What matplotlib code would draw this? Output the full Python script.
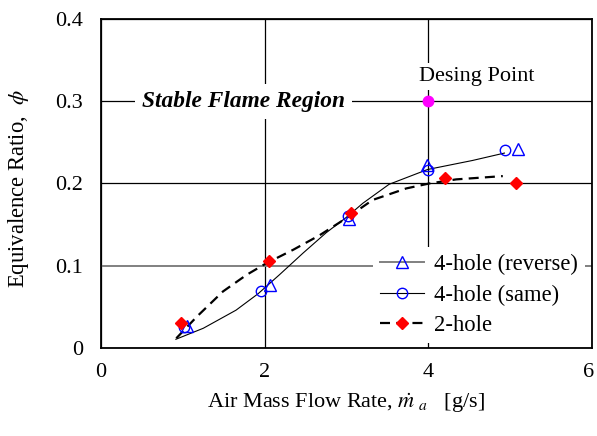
import matplotlib
matplotlib.use("Agg")
import matplotlib.pyplot as plt
from matplotlib.lines import Line2D
from matplotlib.transforms import ScaledTranslation

plt.rcParams['font.family'] = ['Liberation Serif', 'DejaVu Serif']
plt.rcParams['mathtext.fontset'] = 'stix'

# measured data
rev_x = [1.05, 2.07, 3.03, 3.98, 5.10]
rev_y = [0.027, 0.076, 0.157, 0.222, 0.242]
same_x = [1.01, 1.96, 3.02, 3.99, 4.94]
same_y = [0.025, 0.069, 0.160, 0.217, 0.241]
two_x = [0.98, 2.05, 3.05, 4.20, 5.07]
two_y = [0.030, 0.106, 0.164, 0.207, 0.200]
design_x = [4.0]
design_y = [0.30]

# trend lines
fit_same_x = [0.915, 1.25, 1.65, 1.92, 2.18, 2.47, 2.75, 3.0, 3.2, 3.52, 3.99, 4.54, 4.93]
fit_same_y = [0.0106, 0.024, 0.046, 0.066, 0.089, 0.1155, 0.140, 0.159, 0.176, 0.199, 0.217, 0.228, 0.237]
fit_two_x = [0.92, 1.17, 1.49, 1.78, 2.02, 2.35, 2.67, 3.0, 3.32, 3.73, 4.01, 4.34, 4.91]
fit_two_y = [0.0118, 0.038, 0.0687, 0.089, 0.103, 0.1195, 0.137, 0.158, 0.180, 0.194, 0.200, 0.205, 0.209]

x_ticks = [0, 2, 4, 6]
y_ticks = [0, 0.1, 0.2, 0.3, 0.4]
y_tick_labels = ['0', '0.1', '0.2', '0.3', '0.4']

fig = plt.figure(figsize=(5.97, 4.36), dpi=100)
ax = fig.add_axes([101/597, 1-348/436, 491/597, 329/436])

ax.set_xlim(0, 6)
ax.set_ylim(0, 0.4)
ax.set_xticks(x_ticks)
ax.set_xticklabels([str(v) for v in x_ticks])
ax.set_yticks(y_ticks)
ax.set_yticklabels(y_tick_labels)
ax.tick_params(direction='in', length=0, labelsize=16)
ax.tick_params(axis='x', pad=10.5)
ax.tick_params(axis='y', pad=13)
ax.grid(True, color='black', linewidth=0.9)
ax.get_ygridlines()[1].set_color('#808080')
ax.get_ygridlines()[1].set_linewidth(1.4)
ax.set_axisbelow(True)
for s in ax.spines.values():
    s.set_linewidth(1.3)
last = ax.get_xticklabels()[-1]
last.set_transform(last.get_transform() + ScaledTranslation(-3/100, 0, fig.dpi_scale_trans))

ax.plot(fit_same_x, fit_same_y, color='black', linewidth=0.8, zorder=3)
ax.plot(fit_two_x, fit_two_y, color='black', linewidth=1.6, linestyle=(0, (4.5, 2.8)), zorder=3)
ax.plot(rev_x, rev_y, linestyle='none', marker='^', markersize=9, markerfacecolor='none',
        markeredgecolor='blue', markeredgewidth=1.0, zorder=4)
ax.plot(same_x, same_y, linestyle='none', marker='o', markersize=7.5, markerfacecolor='none',
        markeredgecolor='blue', markeredgewidth=1.0, zorder=4)
ax.plot(two_x, two_y, linestyle='none', marker='D', markersize=6.5, color='red', zorder=5)
ax.plot(design_x, design_y, linestyle='none', marker='o', markersize=7.5, color='magenta', zorder=5)

ax.text(1.74, 0.30, 'Stable Flame Region', fontsize=16.8, fontweight='bold', fontstyle='italic',
        ha='center', va='center', zorder=6,
        bbox=dict(facecolor='white', edgecolor='none', pad=5))
ax.text(4.59, 0.330, 'Desing Point', fontsize=16, ha='center', va='center', zorder=6,
        bbox=dict(facecolor='white', edgecolor='none', pad=3))

handles = [
    Line2D([], [], color='#808080', linewidth=1.4, marker='^', markersize=9,
           markerfacecolor='none', markeredgecolor='blue'),
    Line2D([], [], color='black', linewidth=0.8, marker='o', markersize=7.5,
           markerfacecolor='none', markeredgecolor='blue'),
    Line2D([], [], color='black', linewidth=1.6, linestyle=(0, (4.5, 2.8)), marker='D',
           markersize=6.5, markerfacecolor='red', markeredgecolor='red'),
]
labels = ['4-hole (reverse)', '4-hole (same)', '2-hole']
leg = ax.legend(handles, labels, loc='upper left',
                bbox_to_anchor=((373-101)/491, (348-247)/329),
                fontsize=16.3, frameon=True, fancybox=False, framealpha=1,
                edgecolor='none', facecolor='white', borderpad=0.3,
                handlelength=1.95, handletextpad=0.45, labelspacing=0.42,
                borderaxespad=0)
leg.set_zorder(7)

fig.text(346/597, 1-403/436, r'Air Mass Flow Rate, $\dot{m}_{\ a}$   [g/s]', fontsize=16,
         ha='center', va='center')
fig.text(19/597, 1-189/436, r'Equivalence Ratio,  $\phi$', fontsize=16.3, rotation=90,
         ha='center', va='center')

fig.savefig('out.png', dpi=100)
